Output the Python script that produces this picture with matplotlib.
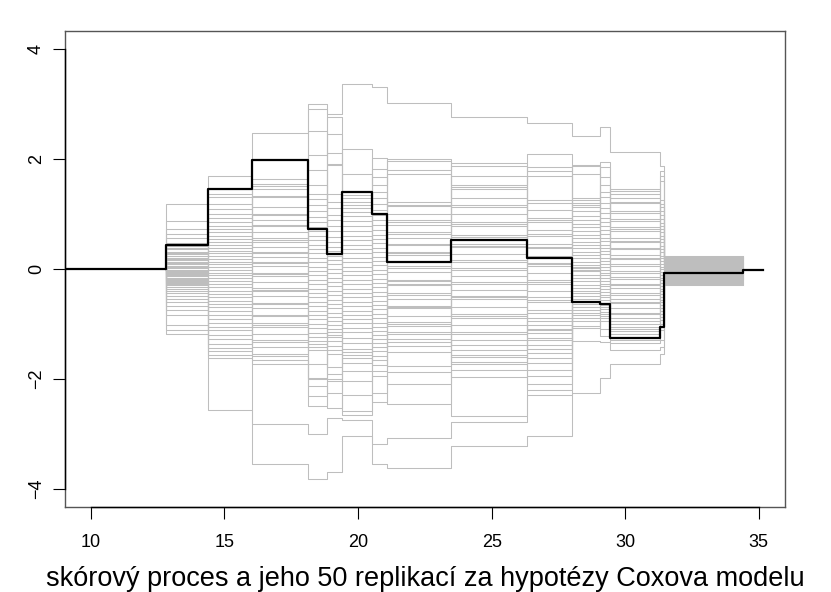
import matplotlib
matplotlib.use("Agg")
import matplotlib.pyplot as plt

# jump times shared by the score process and its replicates
jump_times = [12.8, 14.38, 16.03, 18.13, 18.82, 19.39, 20.52, 21.07, 23.49,
              26.33, 27.99, 29.06, 29.43, 31.30, 31.46, 34.41]

# observed score process, value right after each jump
observed = [0.43, 1.44, 1.98, 0.73, 0.26, 1.39, 0.99, 0.13, 0.53, 0.20,
            -0.61, -0.64, -1.25, -1.05, -0.07, -0.03]
obs_start = 9.03
obs_end = 35.16

seg01 = [1.18, 0.87, 0.73, 0.64, 0.55, 0.47, 0.42, 0.38, 0.35, 0.31, 0.28, 0.26, 0.23, 0.20, 0.18, 0.15, 0.12,
         0.10, 0.08, 0.05, 0.03, 0.01, -0.02, -0.04, -0.06, -0.08, -0.10, -0.12, -0.14, -0.16, -0.18, -0.20,
         -0.22, -0.24, -0.26, -0.28, -0.30, -0.33, -0.36, -0.40, -0.45, -0.50, -0.55, -0.60, -0.68, -0.75,
         -0.85, -1.03, -1.12, -1.19]
seg02 = [1.69, 1.36, 1.30, 1.18, 1.08, 1.00, 0.92, 0.85, 0.78, 0.72, 0.66, 0.60, 0.54, 0.48, 0.43, 0.38, 0.33,
         0.28, 0.23, 0.18, 0.13, 0.08, 0.03, -0.02, -0.07, -0.12, -0.17, -0.22, -0.28, -0.34, -0.40, -0.46,
         -0.52, -0.58, -0.64, -0.70, -0.77, -0.84, -0.91, -0.98, -1.05, -1.12, -1.20, -1.28, -1.36, -1.44,
         -1.50, -1.56, -1.62, -2.57]
seg03 = [2.46, 1.63, 1.54, 1.50, 1.45, 1.33, 1.30, 1.12, 1.00, 0.97, 0.88, 0.80, 0.78, 0.66, 0.55, 0.52, 0.49,
         0.40, 0.30, 0.28, 0.22, 0.12, 0.10, 0.05, -0.08, -0.10, -0.14, -0.25, -0.35, -0.38, -0.41, -0.50,
         -0.62, -0.64, -0.71, -0.84, -0.86, -0.99, -1.02, -1.05, -1.18, -1.30, -1.34, -1.42, -1.55, -1.58,
         -1.66, -1.73, -2.82, -3.55]
seg04 = [2.99, 2.91, 2.50, 2.07, 1.80, 1.52, 1.36, 1.27, 1.15, 1.04, 0.94, 0.85, 0.76, 0.68, 0.60, 0.52, 0.44,
         0.36, 0.28, 0.20, 0.12, 0.04, -0.04, -0.12, -0.20, -0.28, -0.36, -0.44, -0.52, -0.60, -0.68, -0.76,
         -0.84, -0.92, -1.00, -1.08, -1.16, -1.24, -1.31, -1.37, -1.43, -1.48, -1.73, -1.98, -2.01, -2.13,
         -2.31, -2.50, -3.01, -3.82]
seg05 = [2.81, 2.76, 2.45, 2.10, 1.90, 1.88, 1.35, 1.22, 1.10, 0.98, 0.88, 0.78, 0.68, 0.58, 0.49, 0.40, 0.32,
         0.24, 0.16, 0.08, 0.00, -0.08, -0.16, -0.24, -0.32, -0.40, -0.48, -0.56, -0.64, -0.72, -0.80, -0.88,
         -0.95, -1.02, -1.09, -1.15, -1.20, -1.24, -1.32, -1.40, -1.48, -1.55, -1.79, -1.91, -2.00, -2.04,
         -2.25, -2.54, -2.71, -3.70]
seg06 = [3.36, 2.18, 1.73, 1.34, 1.28, 1.22, 1.16, 1.10, 1.03, 0.95, 0.86, 0.77, 0.68, 0.60, 0.52, 0.44, 0.36,
         0.28, 0.20, 0.12, 0.04, -0.04, -0.12, -0.20, -0.28, -0.36, -0.44, -0.52, -0.60, -0.68, -0.76, -0.84,
         -0.92, -0.98, -1.07, -1.15, -1.25, -1.35, -1.45, -1.51, -1.57, -1.63, -1.72, -1.85, -2.04, -2.30,
         -2.58, -2.66, -2.75, -3.04]
seg07 = [3.31, 2.02, 1.81, 1.67, 1.52, 1.40, 1.28, 1.17, 1.07, 0.97, 0.88, 0.79, 0.70, 0.62, 0.54, 0.46, 0.38,
         0.30, 0.22, 0.14, 0.06, -0.02, -0.10, -0.18, -0.26, -0.34, -0.42, -0.50, -0.58, -0.66, -0.74, -0.82,
         -0.90, -0.98, -1.06, -1.13, -1.20, -1.27, -1.35, -1.42, -1.50, -1.58, -1.66, -1.75, -1.85, -1.95,
         -2.25, -2.42, -3.19, -3.55]
seg08 = [3.01, 2.00, 1.95, 1.80, 1.73, 1.22, 1.16, 1.14, 1.00, 0.88, 0.85, 0.80, 0.66, 0.64, 0.55, 0.45, 0.43,
         0.30, 0.28, 0.25, 0.12, 0.05, 0.02, -0.06, -0.20, -0.22, -0.27, -0.30, -0.45, -0.48, -0.55, -0.68,
         -0.70, -0.72, -0.86, -0.97, -1.00, -1.04, -1.15, -1.18, -1.28, -1.34, -1.40, -1.52, -1.76, -1.88,
         -2.10, -2.46, -3.07, -3.62]
seg09 = [2.75, 1.92, 1.86, 1.68, 1.53, 1.49, 1.45, 1.28, 1.15, 1.12, 1.00, 0.85, 0.82, 0.78, 0.62, 0.58, 0.45,
         0.42, 0.40, 0.26, 0.15, 0.12, 0.02, -0.02, -0.14, -0.25, -0.28, -0.38, -0.50, -0.52, -0.55, -0.70,
         -0.82, -0.86, -0.90, -1.02, -1.15, -1.19, -1.30, -1.38, -1.48, -1.57, -1.61, -1.70, -1.73, -1.84,
         -1.96, -2.68, -2.79, -3.22]
seg10 = [2.65, 2.08, 1.84, 1.78, 1.69, 1.24, 1.20, 1.06, 0.92, 0.88, 0.85, 0.70, 0.64, 0.60, 0.45, 0.40, 0.38,
         0.24, 0.10, 0.08, 0.05, -0.08, -0.20, -0.24, -0.28, -0.40, -0.52, -0.56, -0.60, -0.75, -0.80, -0.90,
         -0.95, -1.02, -1.10, -1.12, -1.16, -1.25, -1.30, -1.38, -1.46, -1.53, -1.62, -1.72, -1.84, -1.95,
         -2.10, -2.20, -2.29, -3.04]
seg11 = [2.41, 1.89, 1.87, 1.72, 1.28, 1.24, 1.20, 1.16, 1.12, 1.04, 0.96, 0.89, 0.82, 0.75, 0.68, 0.61, 0.55,
         0.49, 0.43, 0.37, 0.31, 0.25, 0.19, 0.13, 0.07, 0.04, 0.01, -0.02, -0.05, -0.11, -0.17, -0.23, -0.29,
         -0.35, -0.40, -0.45, -0.50, -0.55, -0.60, -0.65, -0.70, -0.75, -0.80, -0.85, -0.90, -0.95, -1.04,
         -1.07, -1.31, -2.25]
seg12 = [2.58, 1.94, 1.84, 1.66, 1.52, 1.40, 1.30, 1.20, 1.10, 1.01, 0.93, 0.85, 0.77, 0.70, 0.63, 0.56, 0.50,
         0.44, 0.38, 0.32, 0.26, 0.20, 0.14, 0.08, 0.03, -0.02, -0.07, -0.12, -0.17, -0.22, -0.27, -0.32, -0.37,
         -0.42, -0.47, -0.52, -0.57, -0.62, -0.66, -0.70, -0.74, -0.78, -0.82, -0.86, -0.90, -0.95, -1.10,
         -1.22, -1.34, -1.98]
seg13 = [2.12, 1.45, 1.41, 1.36, 1.28, 1.22, 1.20, 1.05, 1.01, 0.90, 0.87, 0.75, 0.72, 0.68, 0.55, 0.50, 0.48,
         0.38, 0.36, 0.25, 0.20, 0.18, 0.08, 0.05, -0.05, -0.08, -0.15, -0.18, -0.28, -0.30, -0.35, -0.45,
         -0.48, -0.55, -0.60, -0.62, -0.72, -0.80, -0.82, -0.90, -0.95, -1.00, -1.05, -1.10, -1.13, -1.18,
         -1.30, -1.35, -1.47, -1.73]
seg14 = [1.86, 1.78, 1.69, 1.60, 1.25, 1.18, 1.12, 1.05, 0.98, 0.91, 0.84, 0.78, 0.72, 0.66, 0.60, 0.54, 0.48,
         0.42, 0.36, 0.30, 0.24, 0.19, 0.14, 0.09, 0.04, -0.01, -0.06, -0.11, -0.16, -0.21, -0.26, -0.31, -0.36,
         -0.41, -0.46, -0.51, -0.56, -0.61, -0.66, -0.71, -0.76, -0.82, -0.88, -0.94, -1.00, -1.05, -1.12,
         -1.30, -1.42, -1.55]
seg15 = [0.24, 0.22, 0.21, 0.20, 0.19, 0.18, 0.17, 0.16, 0.15, 0.14, 0.13, 0.12, 0.11, 0.10, 0.09, 0.08, 0.07,
         0.06, 0.05, 0.04, 0.03, 0.02, 0.01, 0.00, -0.01, -0.02, -0.03, -0.04, -0.05, -0.06, -0.07, -0.08, -0.09,
         -0.10, -0.11, -0.12, -0.13, -0.14, -0.15, -0.16, -0.16, -0.17, -0.18, -0.19, -0.20, -0.22, -0.24,
         -0.26, -0.28, -0.29]

# which level each replicate takes (the pairing between segments cannot be read)
pair_b = [0, 7, 3, 12, 1, 9, 15, 4, 2, 18, 6, 11, 22, 5, 14, 8, 25, 10, 20, 13, 28, 16, 19, 31, 17,
          23, 34, 21, 26, 37, 24, 29, 40, 27, 33, 42, 30, 36, 44, 32, 39, 46, 35, 41, 38, 47, 43, 45, 48, 49]

x_ticks = [10, 15, 20, 25, 30, 35]
y_ticks = [-4, -2, 0, 2, 4]
title = "skórový proces a jeho 50 replikací za hypotézy Coxova modelu"


def replicate_paths():
    segments = [seg01, seg02, seg03, seg04, seg05, seg06, seg07, seg08,
                seg09, seg10, seg11, seg12, seg13, seg14, seg15]
    n_rep = len(seg01)
    paths = []
    for i in range(n_rep):
        ys = [0.0]
        for k, seg in enumerate(segments):
            j = i if k % 2 == 0 else pair_b[i]
            ys.append(seg[j])
        ys.append(ys[-1])
        paths.append(ys)
    return paths


def plot():
    plt.rcParams['font.family'] = ['Liberation Sans', 'DejaVu Sans']
    fig = plt.figure(figsize=(8.31, 5.92), dpi=100)
    ax = fig.add_axes([65 / 831, 1 - 507 / 592, 720 / 831, 476 / 592])

    xs_rep = [jump_times[0]] + jump_times
    for ys in replicate_paths():
        ax.step(xs_rep, ys, where='post', color='#bebebe', lw=0.75, zorder=1)

    xs_obs = [obs_start] + jump_times + [obs_end]
    ys_obs = [0.0] + observed + [observed[-1]]
    ax.step(xs_obs, ys_obs, where='post', color='black', lw=1.6, zorder=3)

    ax.set_xlim(9.03, 35.98)
    ax.set_ylim(-4.33, 4.32)
    ax.set_xticks(x_ticks)
    ax.set_yticks(y_ticks)
    ax.tick_params(axis='both', direction='out', length=8.4, width=0.8,
                   labelsize=13, color='black')
    ax.tick_params(axis='x', pad=11)
    ax.tick_params(axis='y', pad=6)
    for lab in ax.get_yticklabels():
        lab.set_rotation(90)
        lab.set_va('center')
    for s in ax.spines.values():
        s.set_color('#555555')
        s.set_linewidth(1.0)
    # axis lines over the tick range, as R draws them
    ax.plot([x_ticks[0], x_ticks[-1]], [-4.33, -4.33], color='black', lw=1.0,
            clip_on=False, zorder=4)
    ax.plot([9.03, 9.03], [y_ticks[0], y_ticks[-1]], color='black', lw=1.0,
            clip_on=False, zorder=4)

    fig.text(425 / 831, 1 - 586 / 592, title, ha='center', va='baseline',
             fontsize=19.5)
    fig.savefig("out.png", dpi=100)


def main():
    plot()


if __name__ == "__main__":
    main()
